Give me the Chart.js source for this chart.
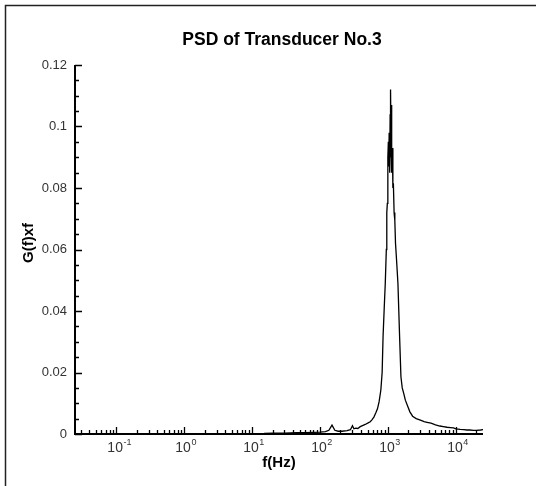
<!DOCTYPE html>
<html>
<head>
<meta charset="utf-8">
<script src="https://cdn.jsdelivr.net/npm/chart.js@4"></script>
<style>
  html, body { margin: 0; padding: 0; background: #fff; }
  #wrap { width: 545px; height: 486px; }
</style>
</head>
<body>
<div id="wrap"><canvas id="psdChart" width="545" height="486"></canvas></div>
<script>
// frequency (Hz) and G(f)xf
var freqs = [15, 20, 30, 45, 60, 80, 100, 120, 135, 150, 165, 185, 210, 250, 280, 300, 315, 335, 360, 390, 430, 462, 510, 548, 580, 620, 660, 700, 740, 785, 820, 846, 880, 912, 945, 960, 978, 995, 1012, 1025, 1040, 1060, 1075, 1085, 1095, 1110, 1125, 1140, 1160, 1180, 1200, 1230, 1260, 1290, 1333, 1400, 1480, 1550, 1620, 1700, 1800, 1950, 2100, 2300, 2600, 3000, 3400, 3750, 4300, 5000, 5800, 6500, 7400, 8300, 9200, 10000, 11500, 13000, 14500, 16000, 18000, 20000, 23000, 26000];
var psd = [0.0002, 0.0003, 0.0003, 0.0004, 0.0004, 0.0005, 0.0006, 0.0008, 0.0012, 0.0029, 0.0012, 0.0009, 0.0009, 0.0011, 0.0014, 0.0027, 0.0017, 0.0019, 0.0018, 0.0024, 0.0028, 0.0031, 0.0036, 0.0040, 0.0046, 0.0055, 0.0068, 0.0082, 0.0105, 0.0143, 0.0200, 0.0316, 0.0410, 0.0490, 0.0600, 0.0720, 0.0750, 0.0900, 0.0950, 0.0870, 0.0980, 0.0850, 0.1040, 0.0900, 0.1120, 0.0940, 0.1070, 0.0850, 0.0930, 0.0800, 0.0815, 0.0720, 0.0695, 0.0620, 0.0570, 0.0490, 0.0320, 0.0186, 0.0150, 0.0133, 0.0110, 0.0090, 0.0072, 0.0058, 0.0050, 0.0045, 0.0040, 0.0038, 0.0035, 0.0030, 0.0026, 0.0024, 0.0022, 0.0021, 0.0020, 0.0017, 0.0015, 0.0014, 0.0013, 0.0013, 0.0012, 0.0012, 0.0013, 0.0015, 0.0017];
var yTicks = [0, 0.02, 0.04, 0.06, 0.08, 0.1, 0.12];
var xTicks = [0.1, 1, 10, 100, 1000, 10000];
var xTickExps = ['-1', '0', '1', '2', '3', '4'];

var points = freqs.map(function (f, i) { return { x: f, y: psd[i] }; });

// axes, ticks and labels drawn by hand (inward ticks, tecplot style)
var frameAxes = {
    id: 'frameAxes',
    afterDraw: function (chart) {
        var ctx = chart.ctx;
        var a = chart.chartArea;
        var xs = chart.scales.x;
        var ys = chart.scales.y;
        ctx.save();
        ctx.strokeStyle = '#222';
        ctx.lineWidth = 1.5;
        ctx.beginPath();
        ctx.moveTo(5.5, 486); ctx.lineTo(5.5, 5.5); ctx.lineTo(536, 5.5);
        ctx.stroke();

        ctx.strokeStyle = '#000';
        ctx.lineWidth = 2;
        ctx.beginPath();
        ctx.moveTo(a.left, a.top); ctx.lineTo(a.left, a.bottom); ctx.lineTo(a.right, a.bottom);
        ctx.stroke();

        ctx.lineWidth = 1.3;
        ctx.beginPath();
        // y ticks
        for (var v = 0; v <= 0.1201; v += 0.005) {
            var py = Math.round(ys.getPixelForValue(v)) + 0.5;
            var major = Math.abs(v / 0.02 - Math.round(v / 0.02)) < 1e-6;
            ctx.moveTo(a.left, py); ctx.lineTo(a.left + (major ? 7 : 4), py);
        }
        // x ticks
        for (var e = -2; e <= 4; e++) {
            for (var m = 1; m <= 9; m++) {
                var f = m * Math.pow(10, e);
                if (f < xs.min || f > xs.max) continue;
                var px = Math.round(xs.getPixelForValue(f)) + 0.5;
                ctx.moveTo(px, a.bottom); ctx.lineTo(px, a.bottom - (m === 1 ? 7 : 4));
            }
        }
        ctx.stroke();

        ctx.fillStyle = '#333';
        ctx.font = '13px "Liberation Sans", Arial, sans-serif';
        ctx.textAlign = 'right';
        ctx.textBaseline = 'middle';
        yTicks.forEach(function (t) {
            ctx.fillText(String(t), a.left - 8, ys.getPixelForValue(t));
        });
        ctx.textBaseline = 'alphabetic';
        xTicks.forEach(function (t, i) {
            var cx = xs.getPixelForValue(t);
            ctx.font = '14px "Liberation Sans", Arial, sans-serif';
            var wBase = ctx.measureText('10').width;
            var x0 = cx - wBase / 2 - 1;
            ctx.textAlign = 'left';
            ctx.fillText('10', x0, a.bottom + 18);
            ctx.font = '9px "Liberation Sans", Arial, sans-serif';
            ctx.fillText(xTickExps[i], x0 + wBase + 0.5, a.bottom + 11);
        });

        ctx.fillStyle = '#000';
        ctx.textAlign = 'center';
        ctx.textBaseline = 'middle';
        ctx.font = 'bold 15px "Liberation Sans", Arial, sans-serif';
        ctx.fillText('f(Hz)', (a.left + a.right) / 2, 463);
        ctx.save();
        ctx.translate(29, 243);
        ctx.rotate(-Math.PI / 2);
        ctx.fillText('G(f)xf', 0, 0);
        ctx.restore();

        ctx.font = 'bold 17.5px "Liberation Sans", Arial, sans-serif';
        ctx.fillText('PSD of Transducer No.3', (a.left + a.right) / 2 + 3, 40);
        ctx.restore();
    }
};

new Chart(document.getElementById('psdChart').getContext('2d'), {
    type: 'line',
    data: {
        datasets: [{
            data: points,
            borderColor: '#000',
            borderWidth: 1.3,
            pointRadius: 0,
            tension: 0,
            fill: false
        }]
    },
    options: {
        responsive: false,
        animation: false,
        layout: { padding: { left: 75, right: 62, top: 65, bottom: 52 } },
        plugins: {
            legend: { display: false },
            title: { display: false },
            tooltip: { enabled: false }
        },
        scales: {
            x: { type: 'logarithmic', min: 0.0248, max: 25000, display: false },
            y: { type: 'linear', min: 0, max: 0.12, display: false }
        }
    },
    plugins: [frameAxes]
});
</script>
</body>
</html>
